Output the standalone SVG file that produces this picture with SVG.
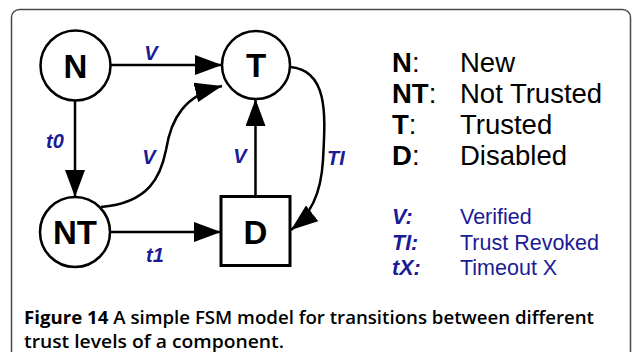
<svg xmlns="http://www.w3.org/2000/svg" width="633" height="352" viewBox="0 0 633 352">
<style>
.frame{fill:none;stroke:#4a4a4a;stroke-width:1.5}
.node{fill:#fff;stroke:#000;stroke-width:2.5}
.nlab{font-family:"Liberation Sans",Arial,sans-serif;font-weight:bold;font-size:33px;fill:#000;text-anchor:middle}
.edge{fill:none;stroke:#000;stroke-width:2.5}
.elab{font-family:"Liberation Sans",Arial,sans-serif;font-weight:bold;font-style:italic;font-size:20px;fill:#1b1b96;text-anchor:middle}
.leg{font-family:"Liberation Sans",Arial,sans-serif;font-size:27.5px;fill:#000}
.leg2{font-family:"Liberation Sans",Arial,sans-serif;font-size:21.5px;fill:#1b1b96}
.cap{font-family:"Open Sans","Liberation Sans",sans-serif;font-size:18px;fill:#000}
</style>
<defs>
<marker id="ah" markerUnits="userSpaceOnUse" markerWidth="27" markerHeight="20" refX="27" refY="10" orient="auto">
<path d="M0,0 L27,10 L0,20 Z" fill="#000"/>
</marker>
</defs>
<rect x="0" y="0" width="633" height="352" fill="#fff"/>
<rect class="frame" x="11.5" y="9.5" width="619" height="420" rx="8"/>
<g id="connectors">
<path class="edge" d="M111,65 L222,65" marker-end="url(#ah)"/>
<path class="edge" d="M75,101 L75,197" marker-end="url(#ah)"/>
<path class="edge" d="M101,207 C150,203 161,175 166,150 C171,118 185,95 222,86" marker-end="url(#ah)"/>
<path class="edge" d="M255.5,196 L255.5,99" marker-end="url(#ah)"/>
<path class="edge" d="M290,67 C330,70 325,120 323,160 C321,195 310,215 291,230" marker-end="url(#ah)"/>
<path class="edge" d="M111,232 L221,232" marker-end="url(#ah)"/>
<text class="elab" x="151" y="60">V</text>
<text class="elab" x="55" y="148">t0</text>
<text class="elab" x="149" y="164">V</text>
<text class="elab" x="240" y="163">V</text>
<text class="elab" x="336" y="165">TI</text>
<text class="elab" x="155" y="262">t1</text>
</g>
<g id="node-N"><circle class="node" cx="75.5" cy="65.5" r="35"/><text class="nlab" x="75.5" y="77.5">N</text></g>
<g id="node-T"><circle class="node" cx="256" cy="65" r="34"/><text class="nlab" x="256" y="77">T</text></g>
<g id="node-NT"><circle class="node" cx="75" cy="232" r="35"/><text class="nlab" x="75" y="244">NT</text></g>
<g id="node-D"><rect class="node" x="221" y="196.5" width="69" height="69" style="stroke-width:3"/><text class="nlab" x="255.5" y="243.5">D</text></g>
<g id="legend">
<text class="leg" x="392" y="72"><tspan font-weight="bold">N</tspan>:</text>
<text class="leg" x="460" y="72">New</text>
<text class="leg" x="392" y="103"><tspan font-weight="bold">NT</tspan>:</text>
<text class="leg" x="460" y="103">Not Trusted</text>
<text class="leg" x="392" y="134"><tspan font-weight="bold">T</tspan>:</text>
<text class="leg" x="460" y="134">Trusted</text>
<text class="leg" x="392" y="165"><tspan font-weight="bold">D</tspan>:</text>
<text class="leg" x="460" y="165">Disabled</text>
<text class="leg2" x="392" y="224" font-weight="bold" font-style="italic">V:</text>
<text class="leg2" x="460" y="224">Verified</text>
<text class="leg2" x="392" y="250" font-weight="bold" font-style="italic">TI:</text>
<text class="leg2" x="460" y="250">Trust Revoked</text>
<text class="leg2" x="392" y="275" font-weight="bold" font-style="italic">tX:</text>
<text class="leg2" x="460" y="275">Timeout X</text>
</g>
<g id="caption">
<text class="cap" x="24" y="324" textLength="570" lengthAdjust="spacingAndGlyphs"><tspan font-weight="bold">Figure 14</tspan><tspan font-weight="600"> A simple FSM model for transitions between different</tspan></text>
<text class="cap" x="24" y="348" font-weight="600" textLength="260" lengthAdjust="spacingAndGlyphs">trust levels of a component.</text>
</g>
</svg>
